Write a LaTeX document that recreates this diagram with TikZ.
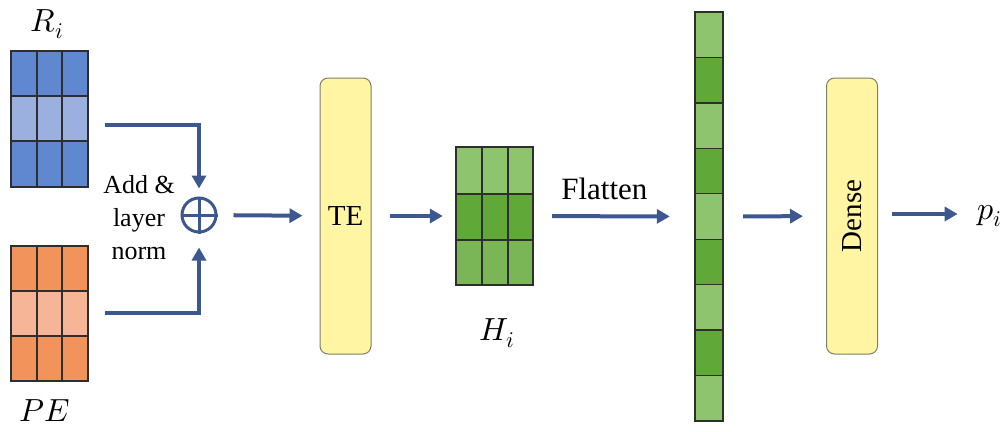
\documentclass[tikz,border=0pt]{standalone}
\usepackage{fontspec}
\usepackage{unicode-math}
\setmainfont{Liberation Serif}
\setmathfont{Latin Modern Math}
\usetikzlibrary{arrows.meta}
\definecolor{arrblue}{HTML}{3D5890}
\definecolor{bluedark}{HTML}{6088D0}
\definecolor{bluelight}{HTML}{9BB0DF}
\definecolor{orgdark}{HTML}{F2935C}
\definecolor{orglight}{HTML}{F6B596}
\definecolor{grnlight}{HTML}{8EC46E}
\definecolor{grndark}{HTML}{60A837}
\definecolor{grnmid}{HTML}{7AB656}
\definecolor{boxfill}{HTML}{FFF5A3}
\definecolor{boxedge}{HTML}{7F7F6A}
\definecolor{gridedge}{HTML}{2E2E2E}
\tikzset{
  arr/.style={draw=arrblue, line width=4pt, -{Triangle[length=13pt,width=14pt]}},
  ybox/.style={draw=boxedge, fill=boxfill, line width=1pt, rounded corners=8pt, minimum width=51pt, minimum height=276pt, inner sep=0pt, font=\fontsize{29}{29}\selectfont},
  gline/.style={draw=gridedge, line width=1.4pt},
  lbl/.style={inner sep=0pt, font=\fontsize{32}{32}\selectfont},
  txt/.style={inner sep=0pt, align=center},
  cellbox/.style={inner sep=0pt, draw=none}
}
\begin{document}
\begin{tikzpicture}[x=1pt,y=-1pt]
\useasboundingbox (0,0) rectangle (1008,431);

% R_i grid
\node[cellbox, minimum width=77pt, minimum height=136pt] (Ri) at (49.5,119) {};
\fill[bluedark] (11,51) rectangle (88,96);
\fill[bluelight] (11,96) rectangle (88,141);
\fill[bluedark] (11,141) rectangle (88,187);
\draw[gline] (11,51) rectangle (88,187);
\draw[gline] (11,96) -- (88,96) (11,141) -- (88,141) (37,51) -- (37,187) (62,51) -- (62,187);
\node[lbl, anchor=base] (RiL) at (47,31) {$R_i$};

% PE grid
\node[cellbox, minimum width=77pt, minimum height=135pt] (PE) at (49.5,313.5) {};
\fill[orgdark] (11,246) rectangle (88,291);
\fill[orglight] (11,291) rectangle (88,336);
\fill[orgdark] (11,336) rectangle (88,381);
\draw[gline] (11,246) rectangle (88,381);
\draw[gline] (11,291) -- (88,291) (11,336) -- (88,336) (37,246) -- (37,381) (62,246) -- (62,381);
\node[lbl, anchor=base] (PEL) at (45,421) {$PE$};

% oplus
\node[circle, draw=arrblue, line width=3pt, minimum size=34pt, inner sep=0pt] (op) at (199,215) {};
\draw[arrblue, line width=3pt] (op.north) -- (op.south) (op.west) -- (op.east);

\node[txt, font=\fontsize{26}{33}\selectfont] (add) at (139,218) {Add \&\\layer\\norm};

% connectors into oplus
\coordinate (c1) at (105,125);
\coordinate (c2) at (105,313);
\draw[arr, shorten >=8pt] (c1) -| (op.north);
\draw[arr, shorten >=14pt] (c2) -| (op.south);

% TE
\node[ybox] (TE) at (345.5,216) {TE};
\draw[arr, shorten <=16pt, shorten >=17pt] (op) -- (TE);

% H grid
\node[cellbox, minimum width=77pt, minimum height=138pt] (H) at (494.5,216) {};
\fill[grnlight] (456,147) rectangle (533,194);
\fill[grndark] (456,194) rectangle (533,240);
\fill[grnmid] (456,240) rectangle (533,285);
\draw[gline] (456,147) rectangle (533,285);
\draw[gline] (456,194) -- (533,194) (456,240) -- (533,240) (482,147) -- (482,285) (508,147) -- (508,285);
\node[lbl, anchor=base] (HL) at (497,340) {$H_i$};
\draw[arr, shorten <=18pt, shorten >=13pt] (TE) -- (H);

% vector
\node[cellbox, minimum width=28pt, minimum height=409pt] (V) at (709,216.5) {};
\foreach \k [evaluate=\k as \ya using {12+45.44*\k}, evaluate=\k as \yb using {12+45.44*(\k+1)}] in {0,...,8} {
  \pgfmathparse{int(mod(\k,2))}
  \ifnum\pgfmathresult=0
    \fill[grnlight] (695,\ya) rectangle (723,\yb);
  \else
    \fill[grndark] (695,\ya) rectangle (723,\yb);
  \fi
  \draw[gline] (695,\ya) rectangle (723,\yb);
}
\draw[arr, shorten <=19pt, shorten >=25pt] (H) -- node[pos=0.44, above=14pt, inner sep=0pt, font=\fontsize{31}{31}\selectfont] (fl) {Flatten} (V);

% Dense
\node[ybox] (D) at (852,216) {\rotatebox{90}{Dense}};
\draw[arr, shorten <=20pt, shorten >=23pt] (V) -- (D);

% p_i
\node[lbl, anchor=base] (p) at (990,219) {$p_i$};
\draw[arr, shorten <=14pt, shorten >=20pt] (D.east |- 0,214) -- (p.west |- 0,214);
\end{tikzpicture}
\end{document}
